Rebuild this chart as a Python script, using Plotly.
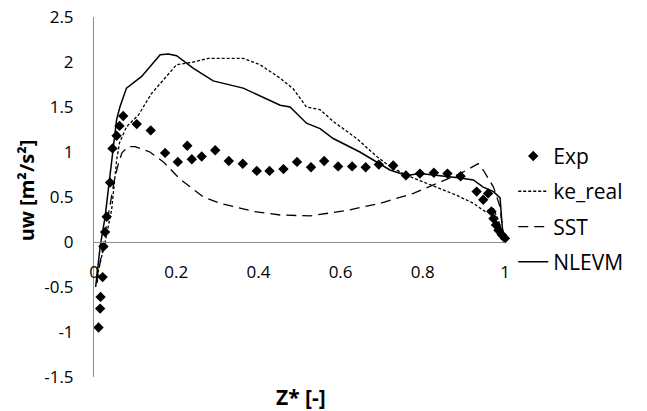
import plotly.graph_objects as go

# Experimental data
exp_x = [0.011, 0.015, 0.016, 0.021, 0.023, 0.027, 0.031, 0.039, 0.045, 0.055, 0.062, 0.071,
         0.104, 0.138, 0.173, 0.204, 0.227, 0.238, 0.262, 0.295, 0.328, 0.362, 0.396, 0.427,
         0.461, 0.494, 0.528, 0.560, 0.594, 0.628, 0.661, 0.693, 0.728, 0.759, 0.793, 0.827,
         0.860, 0.892, 0.931, 0.947, 0.959, 0.967, 0.972, 0.978, 0.984, 0.992, 1.0]
exp_y = [-0.95, -0.74, -0.61, -0.39, -0.05, 0.11, 0.28, 0.66, 1.04, 1.18, 1.29, 1.40,
         1.31, 1.24, 0.99, 0.89, 1.07, 0.92, 0.95, 1.02, 0.90, 0.87, 0.79, 0.79,
         0.81, 0.89, 0.83, 0.90, 0.84, 0.84, 0.83, 0.86, 0.85, 0.74, 0.76, 0.77,
         0.76, 0.73, 0.56, 0.47, 0.54, 0.34, 0.26, 0.19, 0.13, 0.08, 0.04]

# ke_real model
ke_x = [0.008, 0.011, 0.027, 0.043, 0.055, 0.062, 0.079, 0.108, 0.140, 0.169, 0.201, 0.242,
        0.278, 0.363, 0.404, 0.453, 0.485, 0.517, 0.55, 0.582, 0.639, 0.688, 0.72, 0.761,
        0.834, 0.882, 0.923, 0.951, 0.972, 0.984, 0.996]
ke_y = [-0.45, -0.31, 0.0, 0.36, 0.91, 1.10, 1.28, 1.41, 1.65, 1.80, 1.97, 2.00,
        2.04, 2.04, 1.97, 1.82, 1.70, 1.50, 1.47, 1.34, 1.15, 0.95, 0.84, 0.74,
        0.61, 0.52, 0.43, 0.34, 0.37, 0.24, 0.06]

# SST model
sst_x = [0.006, 0.02, 0.035, 0.05, 0.06, 0.068, 0.083, 0.1, 0.136, 0.169, 0.209, 0.266,
         0.307, 0.388, 0.453, 0.526, 0.615, 0.696, 0.777, 0.842, 0.891, 0.935, 0.947,
         0.972, 0.988, 0.996]
sst_y = [-0.46, -0.1, 0.3, 0.7, 0.88, 0.99, 1.06, 1.06, 1.00, 0.89, 0.70, 0.50,
         0.43, 0.34, 0.30, 0.29, 0.35, 0.43, 0.54, 0.67, 0.76, 0.87, 0.80,
         0.61, 0.39, 0.06]

# NLEVM model
nl_x = [0.004, 0.015, 0.027, 0.043, 0.047, 0.055, 0.063, 0.079, 0.116, 0.161, 0.181, 0.201,
        0.242, 0.29, 0.363, 0.412, 0.453, 0.477, 0.517, 0.55, 0.582, 0.647, 0.688, 0.72,
        0.761, 0.793, 0.891, 0.923, 0.947, 0.972, 0.988, 0.994, 1.0]
nl_y = [-0.50, -0.05, 0.28, 0.91, 1.06, 1.36, 1.50, 1.71, 1.84, 2.08, 2.09, 2.07,
        1.93, 1.79, 1.71, 1.61, 1.52, 1.50, 1.32, 1.26, 1.15, 1.00, 0.89, 0.80,
        0.74, 0.76, 0.71, 0.69, 0.61, 0.56, 0.49, 0.13, 0.02]

x_ticks = [0, 0.2, 0.4, 0.6, 0.8, 1]
x_tick_labels = ["0", "0.2", "0.4", "0.6", "0.8", "1"]
y_ticks = [-1.5, -1, -0.5, 0, 0.5, 1, 1.5, 2, 2.5]
y_tick_labels = ["-1.5", "-1", "-0.5", "0", "0.5", "1", "1.5", "2", "2.5"]

FONT = "Open Sans"

fig = go.Figure()
fig.add_trace(go.Scatter(x=exp_x, y=exp_y, mode="markers", name="Exp",
                         marker=dict(symbol="diamond", size=8, color="black"),
                         cliponaxis=False, legendgroup="a"))
fig.add_trace(go.Scatter(x=ke_x, y=ke_y, mode="lines", name="ke_real",
                         line=dict(color="black", width=1.3, dash="3px,2px"),
                         legendgroup="b"))
fig.add_trace(go.Scatter(x=sst_x, y=sst_y, mode="lines", name="SST",
                         line=dict(color="black", width=1.3, dash="10px,6px"),
                         legendgroup="c"))
fig.add_trace(go.Scatter(x=nl_x, y=nl_y, mode="lines", name="NLEVM",
                         line=dict(color="black", width=1.5),
                         legendgroup="d"))

fig.update_layout(
    width=647, height=411,
    margin=dict(l=94, r=142, t=17, b=34),
    paper_bgcolor="white", plot_bgcolor="white",
    font=dict(family=FONT, color="black", size=17),
    showlegend=True,
    legend=dict(x=1.02, y=0.67, xanchor="left", yanchor="top",
                font=dict(family=FONT, size=21, color="black"),
                traceorder="grouped", tracegroupgap=5,
                bgcolor="rgba(0,0,0,0)", itemwidth=30),
    xaxis=dict(range=[0, 1], tickvals=x_ticks, ticktext=x_tick_labels,
               showgrid=False, zeroline=False, showline=True,
               linecolor="#8c8c8c", linewidth=1, ticks="",
               anchor="free", position=0.375, ticklabelstandoff=15,
               automargin=False,
               tickfont=dict(family=FONT, size=17, color="black")),
    yaxis=dict(range=[-1.5, 2.5], tickvals=y_ticks, ticktext=y_tick_labels,
               showgrid=False, zeroline=False, showline=True,
               linecolor="#8c8c8c", linewidth=1, ticks="",
               ticklabelstandoff=16, automargin=False,
               tickfont=dict(family=FONT, size=17, color="black")),
    annotations=[
        dict(text="<b>Z* [-]</b>", xref="paper", yref="paper", x=0.504, y=-0.055,
             xanchor="center", yanchor="middle", showarrow=False,
             font=dict(family=FONT, size=21, color="black")),
        dict(text="<b>uw [m²/s²]</b>", xref="paper", yref="paper", x=-0.165, y=0.519,
             xanchor="center", yanchor="middle", showarrow=False, textangle=-90,
             font=dict(family=FONT, size=20, color="black")),
    ],
)

fig.write_html("out.html", config={"displayModeBar": False},
               post_script="document.body.style.margin='0';document.body.style.overflow='hidden';")
